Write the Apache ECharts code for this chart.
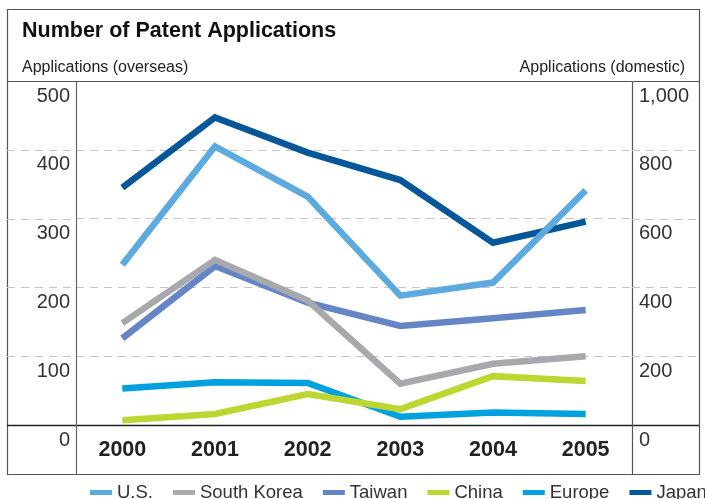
<!DOCTYPE html>
<html>
<head>
<meta charset="utf-8">
<script src="https://cdn.jsdelivr.net/npm/echarts@6/dist/echarts.min.js"></script>
<style>
  html, body { margin: 0; padding: 0; background: #fff; }
  #chart { width: 705px; height: 499px; }
</style>
</head>
<body>
<div id="chart"></div>
<script>
// Patent applications by origin, 2000-2005
const years = ['2000', '2001', '2002', '2003', '2004', '2005'];
const seriesNames = ['U.S.', 'South Korea', 'Taiwan', 'China', 'Europe', 'Japan'];
const usValues = [233, 405, 332, 188, 207, 341];
const southKoreaValues = [148, 240, 181, 60, 89, 100];
const taiwanValues = [126, 231, 178, 144, 155, 167];
const chinaValues = [7, 16, 45, 23, 71, 64];
const europeValues = [53, 62, 61, 12, 18, 16];
const japanValues = [690, 894, 792, 712, 530, 591];   // domestic, right axis
const overseasTicks = [0, 100, 200, 300, 400, 500];
const domesticTicks = [0, 200, 400, 600, 800, 1000];

const colors = {
  'U.S.': '#5DAADF',
  'South Korea': '#A7A9AC',
  'Taiwan': '#6586C6',
  'China': '#BDD631',
  'Europe': '#00A1DE',
  'Japan': '#06579A'
};
const valuesByName = {
  'U.S.': usValues,
  'South Korea': southKoreaValues,
  'Taiwan': taiwanValues,
  'China': chinaValues,
  'Europe': europeValues,
  'Japan': japanValues
};

const FONT = '"Liberation Sans", Arial, sans-serif';
const FRAME = { left: 7, right: 699, top: 9, bottom: 474 };
const PLOT = { left: 76, right: 632, top: 81, bottom: 425 };

// Draw order: Japan at the back, U.S. in front
const drawOrder = seriesNames.slice().reverse();
const series = drawOrder.map(name => ({
  name: name,
  type: 'line',
  yAxisIndex: name === 'Japan' ? 1 : 0,
  data: valuesByName[name],
  showSymbol: false,
  symbol: 'none',
  silent: true,
  lineStyle: { width: 6.5, color: colors[name], cap: 'butt', join: 'miter' },
  itemStyle: { color: colors[name] },
  animation: false
}));

const chart = echarts.init(document.getElementById('chart'), null, { renderer: 'canvas' });

const yLabel = {
  fontFamily: FONT,
  fontSize: 20,
  color: '#333',
  verticalAlign: 'top',
  lineHeight: 20,
  padding: [5, 0, 0, 0]
};

chart.setOption({
  animation: false,
  backgroundColor: '#fff',
  title: {
    text: 'Number of Patent Applications',
    left: 17,
    top: 15,
    textStyle: { fontFamily: FONT, fontSize: 21.5, fontWeight: 'bold', color: '#111' }
  },
  legend: {
    data: seriesNames,
    orient: 'horizontal',
    left: 90,
    top: 483,
    width: 700,
    padding: 0,
    icon: 'rect',
    itemWidth: 22,
    itemHeight: 5,
    itemGap: 20,
    textStyle: { fontFamily: FONT, fontSize: 18.5, color: '#333' }
  },
  grid: {
    left: PLOT.left,
    right: 705 - PLOT.right,
    top: PLOT.top,
    bottom: 499 - PLOT.bottom,
    containLabel: false
  },
  xAxis: {
    type: 'category',
    data: years,
    boundaryGap: true,
    axisLine: { show: false },
    axisTick: { show: false },
    axisLabel: {
      fontFamily: FONT,
      fontSize: 21.5,
      fontWeight: 'bold',
      color: '#222',
      margin: 14
    }
  },
  yAxis: [
    {
      type: 'value',
      min: overseasTicks[0],
      max: overseasTicks[overseasTicks.length - 1],
      interval: overseasTicks[1] - overseasTicks[0],
      axisLine: { show: false },
      axisTick: { show: false },
      axisLabel: Object.assign({ margin: 6, showMaxLabel: true, showMinLabel: true }, yLabel),
      splitLine: { show: true, lineStyle: { color: '#C4C4C4', width: 1, type: [8, 6] } }
    },
    {
      type: 'value',
      min: domesticTicks[0],
      max: domesticTicks[domesticTicks.length - 1],
      interval: domesticTicks[1] - domesticTicks[0],
      position: 'right',
      axisLine: { show: false },
      axisTick: { show: false },
      axisLabel: Object.assign({
        margin: 7,
        showMaxLabel: true,
        showMinLabel: true,
        formatter: v => v.toLocaleString('en-US')
      }, yLabel),
      splitLine: { show: false }
    }
  ],
  series: series
});

// Frame, column separators and gridline extensions into the label columns
function frameGraphics() {
  const els = [];
  const frameColor = '#555';
  const hLine = (y, x1, x2, color, width, dash) => els.push({
    type: 'line', z: 100, silent: true,
    shape: { x1: x1, y1: y, x2: x2, y2: y },
    style: { stroke: color, lineWidth: width, lineDash: dash || null }
  });
  const vLine = (x, y1, y2, color, width) => els.push({
    type: 'line', z: 100, silent: true,
    shape: { x1: x, y1: y1, x2: x, y2: y2 },
    style: { stroke: color, lineWidth: width }
  });

  // outer box
  els.push({
    type: 'rect', z: 100, silent: true,
    shape: { x: FRAME.left + 0.5, y: FRAME.top + 0.5,
             width: FRAME.right - FRAME.left, height: FRAME.bottom - FRAME.top },
    style: { fill: null, stroke: frameColor, lineWidth: 1.2 }
  });

  const yTop = chart.convertToPixel({ yAxisIndex: 0 }, overseasTicks[overseasTicks.length - 1]);
  const yZero = chart.convertToPixel({ yAxisIndex: 0 }, overseasTicks[0]);

  hLine(Math.round(yTop) + 0.5, FRAME.left, FRAME.right, frameColor, 1.2);
  hLine(Math.round(yZero) + 0.5, FRAME.left, FRAME.right, '#222', 1.5);
  vLine(PLOT.left + 0.5, yTop, FRAME.bottom, '#666', 1.2);
  vLine(PLOT.right + 0.5, yTop, FRAME.bottom, frameColor, 1.2);

  overseasTicks.slice(1, -1).forEach(v => {
    const y = Math.round(chart.convertToPixel({ yAxisIndex: 0 }, v)) + 0.5;
    hLine(y, FRAME.left, PLOT.left, '#C4C4C4', 1, [8, 6]);
    hLine(y, PLOT.right, FRAME.right, '#C4C4C4', 1, [8, 6]);
  });

  const text = (str, x, y, align) => els.push({
    type: 'text', z: 100, silent: true, x: x, y: y,
    style: { text: str, fontFamily: FONT, fontSize: 16, fill: '#222',
             textAlign: align, textVerticalAlign: 'middle' }
  });
  text('Applications (overseas)', 22, 68, 'left');
  text('Applications (domestic)', 685, 68, 'right');
  return els;
}

chart.setOption({ graphic: frameGraphics() });
</script>
</body>
</html>
